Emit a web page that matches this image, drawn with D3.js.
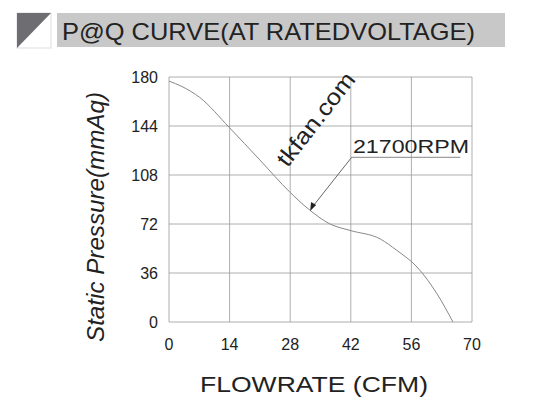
<!DOCTYPE html><html><head><meta charset="utf-8"><script src="https://cdn.jsdelivr.net/npm/d3@7"></script>
<style>body{margin:0;background:#fff}text{font-family:"Liberation Sans",Arial,sans-serif}</style></head><body>
<svg id="c" width="537" height="409"></svg>
<script>
const flow=[0,3,7.1,13.9,21,27.9,32.6,37.2,41.8,48.8,52.6,57.3,61.9,65.6];
const pressure=[177,173,165,143,119,95.5,82,72,67.3,61,52.7,40.4,20.8,0];
const xTicks=[0,14,28,42,56,70];
const yTicks=[0,36,72,108,144,180];
const svg=d3.select("#c");
const x=d3.scaleLinear().domain([0,70]).range([169,472]);
const y=d3.scaleLinear().domain([0,180]).range([322,77]);
svg.append("rect").attr("x",57).attr("y",13).attr("width",448).attr("height",34).attr("fill","#c8c8c8");
svg.append("rect").attr("x",17).attr("y",13).attr("width",34).attr("height",35).attr("fill","#fff").attr("stroke","#ddd");
svg.append("path").attr("d","M17,13 L51,13 L17,48 Z").attr("fill","#6e6e72");
svg.append("text").attr("x",62).attr("y",40).attr("font-size",24).attr("fill","#222").attr("textLength",413).attr("lengthAdjust","spacingAndGlyphs").text("P@Q CURVE(AT RATEDVOLTAGE)");
const g=svg.append("g");
xTicks.forEach(t=>g.append("line").attr("x1",x(t)).attr("x2",x(t)).attr("y1",y(0)).attr("y2",y(180)).attr("stroke","#999").attr("stroke-width",0.8));
yTicks.forEach(t=>g.append("line").attr("x1",x(0)).attr("x2",x(70)).attr("y1",y(t)).attr("y2",y(t)).attr("stroke","#999").attr("stroke-width",0.8));
xTicks.forEach(t=>svg.append("text").attr("x",x(t)).attr("y",350).attr("text-anchor","middle").attr("font-size",16).attr("fill","#222").text(t));
yTicks.forEach(t=>svg.append("text").attr("x",158).attr("y",y(t)+6).attr("text-anchor","end").attr("font-size",16).attr("fill","#222").text(t));
svg.append("path").datum(flow.map((f,i)=>[f,pressure[i]])).attr("fill","none").attr("stroke","#888").attr("stroke-width",1)
 .attr("d",d3.line().x(d=>x(d[0])).y(d=>y(d[1])).curve(d3.curveMonotoneX));
svg.append("line").attr("x1",x(42.2)).attr("y1",y(121)).attr("x2",x(67.3)).attr("y2",y(121)).attr("stroke","#888");
svg.append("line").attr("x1",x(42.2)).attr("y1",y(121)).attr("x2",x(33)).attr("y2",y(84)).attr("stroke","#666");
const ax=x(32.6),ay=y(81.5);
svg.append("path").attr("d",`M${ax},${ay} l1,-9 l5,3 Z`).attr("fill","#222");
svg.append("text").attr("x",x(42.5)).attr("y",y(124.5)).attr("font-size",19).attr("fill","#222").attr("textLength",116).attr("lengthAdjust","spacingAndGlyphs").text("21700RPM");
svg.append("text").attr("transform","translate(322,124) rotate(-52)").attr("text-anchor","middle").attr("font-size",23).attr("fill","#222").attr("textLength",112).attr("lengthAdjust","spacingAndGlyphs").text("tkfan.com");
svg.append("text").attr("transform","translate(104,217) rotate(-90)").attr("text-anchor","middle").attr("font-size",24).attr("font-style","italic").attr("fill","#222").attr("textLength",250).attr("lengthAdjust","spacingAndGlyphs").text("Static  Pressure(mmAq)");
svg.append("text").attr("x",314).attr("y",392).attr("text-anchor","middle").attr("font-size",22).attr("fill","#222").attr("textLength",228).attr("lengthAdjust","spacingAndGlyphs").text("FLOWRATE (CFM)");
</script></body></html>
